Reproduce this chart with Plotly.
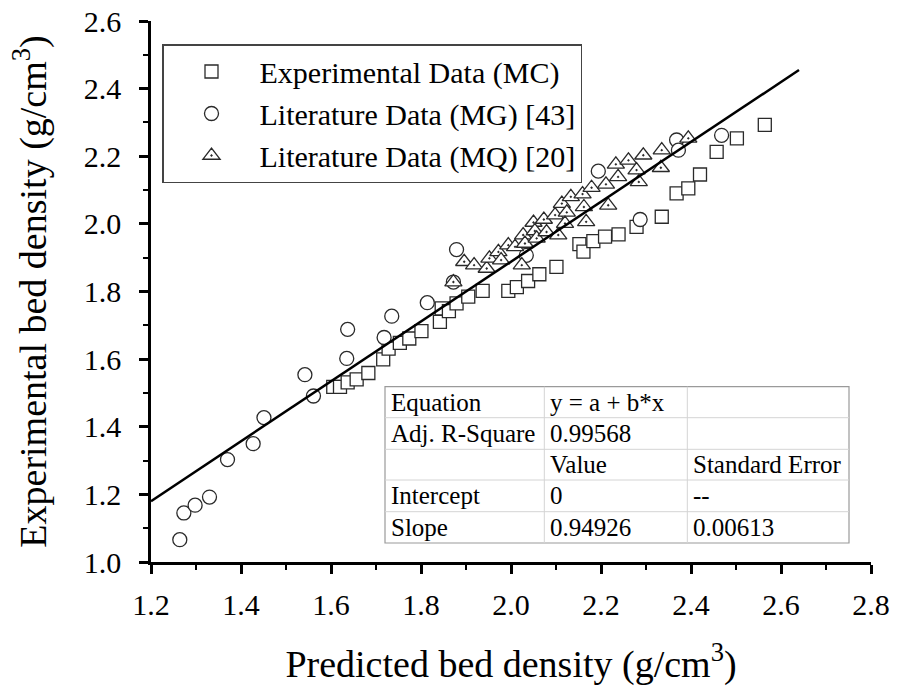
import plotly.graph_objects as go

# ---------------- data ----------------
mc_x = [1.605, 1.620, 1.637, 1.657, 1.683, 1.716, 1.728, 1.753, 1.774, 1.801,
        1.842, 1.846, 1.862, 1.879, 1.905, 1.937, 1.994, 2.013, 2.038, 2.063,
        2.101, 2.152, 2.161, 2.183, 2.209, 2.239, 2.279, 2.335, 2.368, 2.394,
        2.420, 2.457, 2.502, 2.564]
mc_y = [1.518, 1.518, 1.531, 1.540, 1.559, 1.599, 1.631, 1.648, 1.661, 1.683,
        1.710, 1.750, 1.742, 1.765, 1.785, 1.802, 1.802, 1.813, 1.831, 1.851,
        1.873, 1.940, 1.918, 1.949, 1.962, 1.969, 1.991, 2.021, 2.090, 2.105,
        2.146, 2.213, 2.253, 2.293]

mg_x = [1.264, 1.273, 1.298, 1.330, 1.370, 1.427, 1.451, 1.542, 1.561, 1.635,
        1.637, 1.718, 1.735, 1.814, 1.872, 1.879, 2.034, 2.194, 2.287, 2.368,
        2.372, 2.468]
mg_y = [1.066, 1.145, 1.168, 1.192, 1.303, 1.350, 1.427, 1.554, 1.491, 1.602,
        1.688, 1.664, 1.727, 1.767, 1.828, 1.924, 1.907, 2.156, 2.013, 2.248,
        2.218, 2.262]

mq_x = [1.872, 1.896, 1.918, 1.946, 1.952, 1.972, 1.978, 1.994, 2.009, 2.024,
        2.027, 2.031, 2.050, 2.053, 2.057, 2.073, 2.079, 2.098, 2.105, 2.113,
        2.124, 2.120, 2.133, 2.159, 2.162, 2.167, 2.179, 2.211, 2.216, 2.233,
        2.238, 2.261, 2.279, 2.284, 2.294, 2.333, 2.335, 2.394]
mq_y = [1.828, 1.888, 1.878, 1.868, 1.898, 1.917, 1.893, 1.937, 1.932, 1.878,
        1.967, 1.942, 2.004, 1.979, 1.957, 2.013, 1.976, 2.026, 1.967, 2.060,
        2.034, 2.001, 2.080, 2.088, 2.050, 2.006, 2.107, 2.117, 2.055, 2.176,
        2.139, 2.188, 2.159, 2.124, 2.203, 2.166, 2.218, 2.253]

fit_x = [1.2, 2.64]
fit_y = [1.18, 2.455]

series_names = ["Experimental Data (MC)", "Literature Data (MG) [43]",
                "Literature Data (MQ) [20]"]

x_ticks = [1.2, 1.4, 1.6, 1.8, 2.0, 2.2, 2.4, 2.6, 2.8]
y_ticks = [1.0, 1.2, 1.4, 1.6, 1.8, 2.0, 2.2, 2.4, 2.6]

table_col1 = ["Equation", "Adj. R-Square", "", "Intercept", "Slope"]
table_col2 = ["y = a + b*x", "0.99568", "Value", "0", "0.94926"]
table_col3 = ["", "", "Standard Error", "--", "0.00613"]

# ---------------- figure ----------------
FONT = "Liberation Serif, Times New Roman, serif"
W, H = 900, 686
ML, MT = 151, 21
PW, PH = 720, 541
MR, MB = W - ML - PW, H - MT - PH
SX0, SY1 = ML, MT + PH  # plot-area left / bottom in page pixels


def px2paper(px, py):
    return (px - SX0) / PW, (SY1 - py) / PH


fig = go.Figure()
edge = "#2a2a2a"
fig.add_trace(go.Scatter(
    x=mc_x, y=mc_y, mode="markers", name=series_names[0],
    marker=dict(symbol="square", size=13, color="white",
                line=dict(color=edge, width=1.3))))
fig.add_trace(go.Scatter(
    x=mg_x, y=mg_y, mode="markers", name=series_names[1],
    marker=dict(symbol="circle", size=14, color="white",
                line=dict(color=edge, width=1.3))))
fig.add_trace(go.Scatter(
    x=mq_x, y=mq_y, mode="markers", name=series_names[2],
    marker=dict(symbol="triangle-up-dot", size=15, color="white",
                line=dict(color=edge, width=1.3))))
fig.add_trace(go.Scatter(
    x=fit_x, y=fit_y, mode="lines", showlegend=False,
    line=dict(color="black", width=2.5)))

# statistics table drawn with shapes + annotations
tx0, tx1 = 385, 849
col_edges = [385, 544.3, 687.3, 849]
row_edges = [386.7, 417.7, 449.3, 480, 511.7, 543]
shapes = []
x0, y1 = px2paper(tx0, row_edges[0])
x1, y0 = px2paper(tx1, row_edges[-1])
shapes.append(dict(type="rect", xref="paper", yref="paper", x0=x0, x1=x1,
                   y0=y0, y1=y1, fillcolor="white",
                   line=dict(color="#9a9a9a", width=1.2), layer="above"))
for ry in row_edges[1:-1]:
    a, b = px2paper(tx0, ry)
    c, _ = px2paper(tx1, ry)
    shapes.append(dict(type="line", xref="paper", yref="paper", x0=a, x1=c,
                       y0=b, y1=b, line=dict(color="#d4d4d4", width=1),
                       layer="above"))
for cx in col_edges[1:-1]:
    a, b = px2paper(cx, row_edges[0])
    _, d = px2paper(cx, row_edges[-1])
    shapes.append(dict(type="line", xref="paper", yref="paper", x0=a, x1=a,
                       y0=b, y1=d, line=dict(color="#d4d4d4", width=1),
                       layer="above"))

annotations = []
for ci, col in enumerate([table_col1, table_col2, table_col3]):
    for ri, txt in enumerate(col):
        if not txt:
            continue
        cx = col_edges[ci] + 4
        cy = (row_edges[ri] + row_edges[ri + 1]) / 2
        ax, ay = px2paper(cx, cy)
        annotations.append(dict(text=txt, x=ax, y=ay, xref="paper",
                                yref="paper", xanchor="left", yanchor="middle",
                                showarrow=False,
                                font=dict(family=FONT, size=25, color="black")))

lx, ly = px2paper(162, 44)

axis_common = dict(
    showline=True, linecolor="black", linewidth=2.5, mirror=False,
    ticks="outside", ticklen=9, tickwidth=2.5, tickcolor="black",
    showgrid=False, zeroline=False, tickformat=".1f",
    ticklabeloverflow="allow",
    tickfont=dict(family=FONT, size=30, color="black"),
    minor=dict(ticks="outside", ticklen=5, tickwidth=2, tickcolor="black",
               dtick=0.1, showgrid=False),
)

fig.update_layout(
    width=W, height=H,
    margin=dict(l=ML, r=MR, t=MT, b=MB, autoexpand=False),
    plot_bgcolor="white", paper_bgcolor="white",
    font=dict(family=FONT, color="black"),
    xaxis=dict(range=[1.2, 2.8], tickvals=x_ticks, ticklabelstandoff=5,
               title=dict(text="Predicted bed density (g/cm<sup>3</sup>)",
                          font=dict(family=FONT, size=38), standoff=32),
               **axis_common),
    yaxis=dict(range=[1.0, 2.6], tickvals=y_ticks, ticklabelstandoff=12,
               title=dict(text="Experimental bed density (g/cm<sup>3</sup>)",
                          font=dict(family=FONT, size=38), standoff=26),
               **axis_common),
    legend=dict(x=lx, y=ly, xanchor="left", yanchor="top",
                bgcolor="white", bordercolor="#444", borderwidth=1.5,
                font=dict(family=FONT, size=30, color="black"),
                itemwidth=86, tracegroupgap=0),
    shapes=shapes, annotations=annotations,
)

# remove the browser's default 8px body margin so the 900x686 figure fills
# the window exactly
fig.write_html("out.html",
               config={"displayModeBar": False},
               post_script="document.body.style.margin='0px';"
                           "document.body.style.overflow='hidden';")
